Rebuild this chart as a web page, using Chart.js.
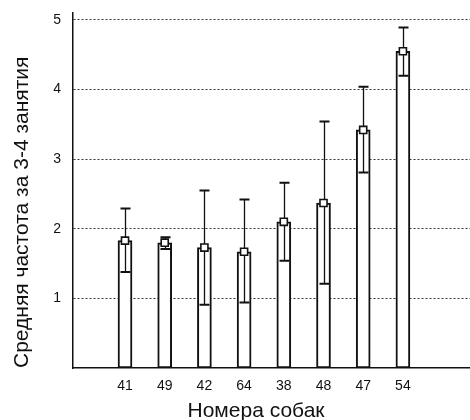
<!DOCTYPE html>
<html>
<head>
<meta charset="utf-8">
<script src="https://cdn.jsdelivr.net/npm/chart.js@4"></script>
<style>
  html, body { margin: 0; padding: 0; background: #fff; overflow: hidden; }
  #wrap { width: 470px; height: 420px; }
  canvas { display: block; }
</style>
</head>
<body>
<div id="wrap"><canvas id="chart"></canvas></div>
<script>
// dog numbers along the x axis
const dogs = ['41', '49', '42', '64', '38', '48', '47', '54'];
// mean frequency over sessions 3-4
const means = [1.83, 1.80, 1.73, 1.67, 2.10, 2.37, 3.42, 4.55];
// whisker ends
const upper = [2.29, 1.88, 2.55, 2.42, 2.66, 3.54, 4.04, 4.89];
const lower = [1.38, 1.71, 0.91, 0.94, 1.54, 1.21, 2.81, 4.20];
const yTicks = [1, 2, 3, 4, 5];
const xTitle = 'Номера собак';

const FONT = "'Liberation Sans', Arial, sans-serif";

// vertical whiskers with caps, drawn right after the bars
const errorBars = {
    id: 'errorBars',
    afterDatasetDraw(chart, args) {
        if (args.index !== 0) return;
        const { ctx, scales: { x, y } } = chart;
        ctx.save();
        ctx.strokeStyle = '#111';
        means.forEach((m, i) => {
            const px = Math.round(x.getPixelForValue(i + 1)) + 0.5;
            const yt = y.getPixelForValue(upper[i]);
            const yb = y.getPixelForValue(lower[i]);
            ctx.lineWidth = 1.3;
            ctx.beginPath();
            ctx.moveTo(px, yt);
            ctx.lineTo(px, yb);
            ctx.stroke();
            ctx.lineWidth = 2;
            ctx.beginPath();
            ctx.moveTo(px - 5, yt);
            ctx.lineTo(px + 5, yt);
            ctx.moveTo(px - 5, yb);
            ctx.lineTo(px + 5, yb);
            ctx.stroke();
        });
        ctx.restore();
    }
};

// x title sits a little left of the plot centre in the original
const xTitlePlugin = {
    id: 'xTitle',
    afterDraw(chart) {
        const { ctx, scales: { x } } = chart;
        ctx.save();
        ctx.font = '21px ' + FONT;
        ctx.fillStyle = '#111';
        ctx.textAlign = 'center';
        ctx.textBaseline = 'middle';
        ctx.fillText(xTitle, x.getPixelForValue(4.3), x.bottom - 9);
        ctx.restore();
    }
};

new Chart(document.getElementById('chart'), {
    type: 'bar',
    data: {
        datasets: [
            {
                type: 'bar',
                data: means.map((v, i) => ({ x: i + 1, y: v })),
                backgroundColor: '#fff',
                borderColor: '#111',
                borderWidth: 2,
                borderSkipped: false,
                barThickness: 14,
                order: 2
            },
            {
                type: 'scatter',
                data: means.map((v, i) => ({ x: i + 1, y: v })),
                pointStyle: 'rect',
                pointRadius: 5,
                pointBackgroundColor: '#fff',
                pointBorderColor: '#111',
                pointBorderWidth: 1.6,
                order: 1
            }
        ]
    },
    options: {
        responsive: true,
        maintainAspectRatio: false,
        animation: false,
        layout: { autoPadding: false, padding: { top: 13, right: 0, left: 0, bottom: 0 } },
        plugins: { legend: { display: false }, tooltip: { enabled: false } },
        scales: {
            x: {
                type: 'linear',
                offset: false,
                min: -0.31,
                max: 9.69,
                afterBuildTicks: s => { s.ticks = dogs.map((d, i) => ({ value: i + 1 })); },
                afterFit: s => { s.height = 52; },
                grid: { display: false, drawTicks: true, tickLength: 10, tickColor: 'rgba(0,0,0,0)' },
                border: { display: true, color: '#111', width: 1.5 },
                ticks: {
                    autoSkip: false,
                    maxRotation: 0,
                    padding: 0,
                    color: '#111',
                    font: { family: FONT, size: 14 },
                    callback: v => dogs[v - 1] ?? ''
                }
            },
            y: {
                min: 0,
                max: 5.1,
                afterBuildTicks: s => { s.ticks = yTicks.map(v => ({ value: v })); },
                afterFit: s => { s.width = 73; },
                grid: {
                    drawTicks: true,
                    tickLength: 12,
                    tickColor: 'rgba(0,0,0,0)',
                    color: '#333',
                    lineWidth: 1
                },
                border: { display: true, color: '#111', width: 1.5, dash: [2, 2] },
                ticks: {
                    padding: 0,
                    color: '#111',
                    font: { family: FONT, size: 14 }
                },
                title: {
                    display: true,
                    text: 'Средняя частота за 3-4 занятия',
                    align: 'start',
                    color: '#111',
                    font: { family: FONT, size: 21 },
                    padding: { top: 10, bottom: 0 }
                }
            }
        }
    },
    plugins: [errorBars, xTitlePlugin]
});
</script>
</body>
</html>
